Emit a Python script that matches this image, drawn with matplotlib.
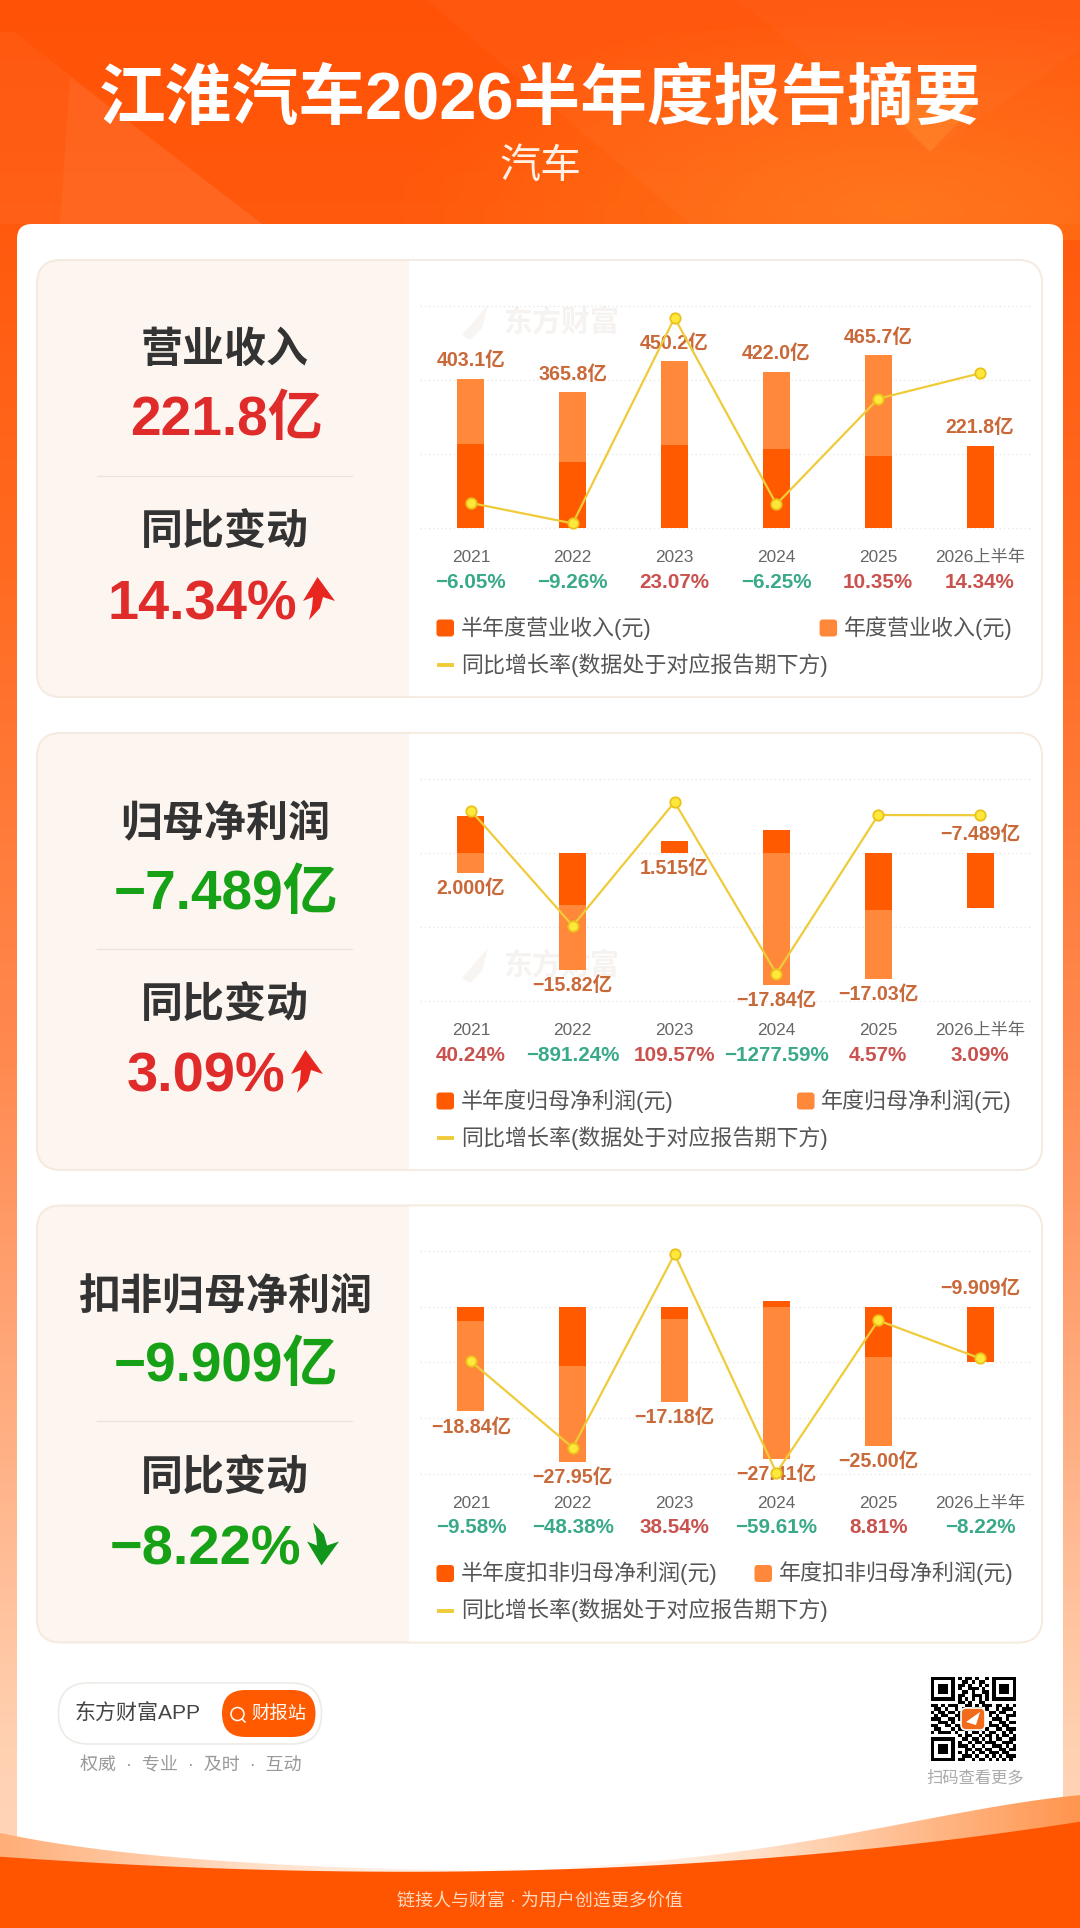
import matplotlib
matplotlib.use("Agg")
import matplotlib.pyplot as plt
import matplotlib.patches as patches
from matplotlib.colors import LinearSegmentedColormap
import numpy as np

W, H = 1080, 1928
plt.rcParams['font.family'] = ['Liberation Sans', 'Noto Sans CJK SC', 'DejaVu Sans']
plt.rcParams['axes.unicode_minus'] = True

categories = ["2021", "2022", "2023", "2024", "2025", "2026上半年"]

# 营业收入 (亿元)
rev_half = [225.6, 179.0, 224.7, 214.0, 194.0, 221.8]
rev_year = [403.1, 365.8, 450.2, 422.0, 465.7, np.nan]
rev_rate = [-6.05, -9.26, 23.07, -6.25, 10.35, 14.34]
rev_labels = ["403.1亿", "365.8亿", "450.2亿", "422.0亿", "465.7亿", "221.8亿"]

# 归母净利润 (亿元)
np_half = [4.9, -7.1, 1.6, 3.1, -7.66, -7.489]
np_year = [-2.7, -15.82, 1.515, -17.84, -17.03, np.nan]
np_rate = [40.24, -891.24, 109.57, -1277.59, 4.57, 3.09]
np_labels = ["2.000亿", "−15.82亿", "1.515亿", "−17.84亿", "−17.03亿", "−7.489亿"]

# 扣非归母净利润 (亿元)
dnp_half = [-2.6, -10.6, -2.2, 1.0, -9.0, -9.909]
dnp_year = [-18.84, -27.95, -17.18, -27.41, -25.00, np.nan]
dnp_rate = [-9.58, -48.38, 38.54, -59.61, 8.81, -8.22]
dnp_labels = ["−18.84亿", "−27.95亿", "−17.18亿", "−27.41亿", "−25.00亿", "−9.909亿"]

panels = [
    dict(top=260, title="营业收入", value="221.8亿", change="14.34%", up=True, value_good=False,
         half=rev_half, year=rev_year, rate=rev_rate, labels=rev_labels,
         ylim=(0, 600), rlim=(-10, 25), yticks=[0, 200, 400, 600],
         leg_half="半年度营业收入(元)", leg_year="年度营业收入(元)", leg_x=819.6, arrow_x=303, text_r=297),
    dict(top=733, title="归母净利润", value="−7.489亿", change="3.09%", up=True, value_good=True,
         half=np_half, year=np_year, rate=np_rate, labels=np_labels,
         ylim=(-20, 10), rlim=(-1500, 300), yticks=[-20, -10, 0, 10],
         leg_half="半年度归母净利润(元)", leg_year="年度归母净利润(元)", leg_x=797, arrow_x=291, text_r=285),
    dict(top=1205.5, title="扣非归母净利润", value="−9.909亿", change="−8.22%", up=False, value_good=True,
         half=dnp_half, year=dnp_year, rate=dnp_rate, labels=dnp_labels,
         ylim=(-30, 10), rlim=(-60, 40), yticks=[-30, -20, -10, 0, 10],
         leg_half="半年度扣非归母净利润(元)", leg_year="年度扣非归母净利润(元)", leg_x=754.5, arrow_x=307, text_r=301),
]

qr_rows = [
    "1111111010110100101111111",
    "1000001001101011001000001",
    "1011101011010010101011101",
    "1011101010011101001011101",
    "1011101001101001101011101",
    "1000001011001110101000001",
    "1111111010101010101111111",
    "0000000011010011000000000",
    "1101011100110101110110101",
    "0110100101001110100101110",
    "1011011010000000011011001",
    "0101100110000000010100111",
    "1110011011000000001110100",
    "0011101000000000010011011",
    "1100110110000000011101100",
    "0110001011011010100110111",
    "1011110100101101011001010",
    "0000000010110010110101101",
    "1111111001101101010110011",
    "1000001010010110111001110",
    "1011101011101001001110101",
    "1011101000110110110011011",
    "1011101010101011011101100",
    "1000001001110100101010111",
    "1111111011001011010101010",
]

fig = plt.figure(figsize=(W / 100, H / 100), dpi=100)
bg = fig.add_axes([0, 0, 1, 1], zorder=0)
bg.set_xlim(0, W)
bg.set_ylim(H, 0)
bg.axis("off")


def px(size):
    return size * 0.72


def rbox(x0, y0, x1, y1, r, **kw):
    p = patches.FancyBboxPatch((x0 + r, y0 + r), x1 - x0 - 2 * r, y1 - y0 - 2 * r,
                               boxstyle=f"round,pad={r},rounding_size={r}", **kw)
    bg.add_patch(p)
    return p


def curve(xs, ys, deg=5):
    coef = np.polyfit(xs, ys, deg)
    grid = np.linspace(0, W, 200)
    return grid, np.polyval(coef, grid)


# page background
page_cmap = LinearSegmentedColormap.from_list("page", [
    (0.0, "#FF5206"), (0.12, "#FF5A0E"), (0.3, "#FF6B22"), (0.55, "#FF8A50"),
    (0.75, "#FFB085"), (0.9, "#FFD0B0"), (1.0, "#FFD8BC")])
bg.imshow(np.linspace(0, 1, 256).reshape(-1, 1), cmap=page_cmap, extent=(0, W, H, 0),
          aspect="auto", zorder=0, vmin=0, vmax=1)
# soft glow low on the right of the header
gx, gy = np.meshgrid(np.linspace(0, W, 216), np.linspace(0, 240, 48))
glow_alpha = np.clip(1 - np.hypot((gx - 900) / 520, (gy - 210) / 210), 0, 1) * 0.85
glow_rgba = np.dstack([np.ones_like(gx), np.full_like(gx, 0.47), np.full_like(gx, 0.09), glow_alpha])
bg.imshow(glow_rgba, extent=(0, W, 240, 0), aspect="auto", zorder=0.5)
bg.add_patch(patches.Polygon([(427, 0), (737, 0), (930, 152), (1080, 50), (1080, 224), (690, 224)],
                             fc="white", alpha=0.03, ec="none", zorder=1))
bg.add_patch(patches.Polygon([(737, 0), (930, 152), (1080, 50), (1080, 0)],
                             fc="white", alpha=0.05, ec="none", zorder=1))
bg.add_patch(patches.Polygon([(930, 152), (880, 100), (980, 100)], fc="#FF8A2A", alpha=0.5, ec="none", zorder=1))
bg.add_patch(patches.Polygon([(14, 32), (262, 224), (0, 224), (0, 32)], fc="white", alpha=0.04, ec="none", zorder=1))
bg.add_patch(patches.Polygon([(70, 77), (262, 224), (60, 224)], fc="white", alpha=0.05, ec="none", zorder=1))

bg.text(540, 101, "江淮汽车2026半年度报告摘要", color="white", fontsize=px(66.7), fontweight="bold",
        ha="center", va="center", zorder=5)
bg.text(540, 167, "汽车", color="#FFF1E6", fontsize=px(41), ha="center", va="center", zorder=5)

# main white sheet
rbox(17, 224, 1063, 1960, 15, fc="white", ec="none", zorder=2)

# bottom waves
wx, wy = curve([0, 69, 207, 537, 758, 861, 964, 1080], [1833, 1845, 1860, 1868, 1850, 1830, 1813, 1795])
light_poly = patches.Polygon(list(zip(wx, wy)) + [(W, H), (0, H)], fc="none", ec="none", zorder=3)
bg.add_patch(light_poly)
wave_cmap = LinearSegmentedColormap.from_list("wave", [
    (0.0, "#FFAE78"), (0.25, "#FFE2CC"), (0.5, "#FFFFFF"), (0.7, "#FFE0C8"), (1.0, "#FF9650")])
wave_im = bg.imshow(np.linspace(0, 1, 256).reshape(1, -1), cmap=wave_cmap, extent=(0, W, H, 1780),
                    aspect="auto", zorder=3)
wave_im.set_clip_path(light_poly)
ox, oy = curve([0, 138, 537, 826, 1080], [1856.7, 1865, 1870, 1853, 1821.7], deg=4)
bg.add_patch(patches.Polygon(list(zip(ox, oy)) + [(W, H), (0, H)], fc="#FF5500", ec="none", zorder=3.5))
bg.text(540, 1902, "链接人与财富 · 为用户创造更多价值", color="#FFD9C2", fontsize=px(18),
        ha="center", va="center", zorder=5)

bg.set_xlim(0, W)
bg.set_ylim(H, 0)

X_POS = np.arange(len(categories))
RED, GREEN = "#E02B2B", "#16A116"
DARK = "#333333"

for idx, p in enumerate(panels):
    top = p["top"]
    bottom = top + 437
    # card and left tinted panel
    card = rbox(37, top, 1042, bottom, 24, fc="#FDF5F0", ec="#F5EADF", lw=1.2, zorder=3)
    right = patches.Rectangle((409, top), 640, 437, fc="white", ec="none", zorder=3.1)
    bg.add_patch(right)
    right.set_clip_path(card)
    rbox(37, top, 1042, bottom, 24, fc="none", ec="#F5EADF", lw=1.2, zorder=3.2)

    # left summary
    value_color = GREEN if p["value_good"] else RED
    change_color = RED if p["up"] else GREEN
    bg.text(225, top + 91, p["title"], color=DARK, fontsize=px(42), fontweight="bold",
            ha="center", va="center", zorder=5)
    bg.text(226, top + 161.5, p["value"], color=value_color, fontsize=px(55), fontweight="bold",
            ha="center", va="center", zorder=5)
    bg.plot([97, 352], [top + 215.7] * 2, color="#EBE2DB", lw=0.9, zorder=5)
    bg.text(225, top + 274, "同比变动", color=DARK, fontsize=px(42), fontweight="bold",
            ha="center", va="center", zorder=5)
    bg.text(p["text_r"], top + 345, p["change"], color=change_color, fontsize=px(56), fontweight="bold",
            ha="right", va="center", zorder=5)
    ax_l, ay = p["arrow_x"], top + 317
    shape = [(14.5, 0), (32, 24), (20, 20), (17, 31), (6, 43), (9, 31), (10, 20), (0, 24)]
    if not p["up"]:
        shape = [(sx, 43 - sy) for sx, sy in shape]
    bg.add_patch(patches.Polygon([(ax_l + sx, ay + sy) for sx, sy in shape],
                                 fc="#E8251F" if p["up"] else "#11961B", ec="none", zorder=5))

    # watermark
    if idx < 2:
        wy0 = top + 60 if idx == 0 else top + 230
        bg.add_patch(patches.Polygon([(462, wy0 + 15), (488, wy0 - 15), (482, wy0 + 8), (470, wy0 + 20)],
                                     fc="#F7F4F1", ec="none", zorder=4))
        bg.text(561, wy0 + 2, "东方财富", color="#F6F2EF", fontsize=px(29), fontweight="bold",
                ha="center", va="center", zorder=4)

    # legend
    leg_y0, leg_y1 = top + 368, top + 405
    rbox(436.5, leg_y0 - 8.5, 454, leg_y0 + 8.5, 3, fc="#FF5A00", ec="none", zorder=5)
    bg.text(461, leg_y0, p["leg_half"], color="#555555", fontsize=px(22), ha="left", va="center", zorder=5)
    rbox(p["leg_x"], leg_y0 - 8.5, p["leg_x"] + 17.5, leg_y0 + 8.5, 3, fc="#FF883A", ec="none", zorder=5)
    bg.text(p["leg_x"] + 24, leg_y0, p["leg_year"], color="#555555", fontsize=px(22),
            ha="left", va="center", zorder=5)
    bg.plot([436.5, 454], [leg_y1, leg_y1], color="#EFCB3A", lw=2.8, solid_capstyle="butt", zorder=5)
    bg.text(461, leg_y1, "同比增长率(数据处于对应报告期下方)", color="#555555", fontsize=px(22),
            ha="left", va="center", zorder=5)

    # chart
    chart_top = top + 45.5
    chart_bottom = chart_top + 222.6
    ax = fig.add_axes([420 / W, 1 - chart_bottom / H, 611 / W, 222.6 / H], zorder=2 + idx * 2)
    ax.patch.set_alpha(0)
    ax.bar(X_POS, p["year"], width=0.265, color="#FF883A", zorder=2)
    ax.bar(X_POS, p["half"], width=0.265, color="#FF5A00", zorder=3)
    ax.set_xlim(-0.5, 5.5)
    ax.set_ylim(*p["ylim"])
    ax.set_yticks(p["yticks"])
    ax.set_xticks(X_POS)
    ax.set_xticklabels(categories, fontsize=px(17.2), color="#666666")
    ax.tick_params(axis="x", length=0, pad=px(22))
    ax.tick_params(axis="y", length=0, labelleft=False)
    ax.grid(axis="y", color="#E9E9E9", lw=1, ls=(0, (1, 2)), zorder=0, clip_on=False)
    for s in ax.spines.values():
        s.set_visible(False)

    for i, lab in enumerate(p["labels"]):
        h, y = p["half"][i], p["year"][i]
        y = 0 if np.isnan(y) else y
        above = idx == 0 or i == 5
        anchor = max(0, h, y) if above else min(0, h, y)
        ax.annotate(lab, xy=(i, anchor), xytext=(0, 18 if above else -15.7), textcoords="offset pixels",
                    ha="center", va="center", color="#C9693A", fontsize=px(19.6), fontweight="bold",
                    zorder=6, annotation_clip=False)
        rate = p["rate"][i]
        rtxt = f"{rate:.2f}%".replace("-", "−")
        ax.annotate(rtxt, xy=(i, 0), xycoords=("data", "axes fraction"), xytext=(0, -54),
                    textcoords="offset pixels", ha="center", va="center",
                    color="#C9524F" if rate > 0 else "#3AA98A", fontsize=px(20.7), fontweight="bold",
                    annotation_clip=False)

    ax2 = ax.twinx()
    ax2.set_zorder(ax.get_zorder() + 1)
    ax2.patch.set_alpha(0)
    ax2.plot(X_POS, p["rate"], color="#EFCB3A", lw=1.6, marker="o", ms=7.5,
             mfc="#FFE83C", mec="#EAC21A", mew=1.3, clip_on=False)
    ax2.set_ylim(*p["rlim"])
    ax2.set_yticks([])
    for s in ax2.spines.values():
        s.set_visible(False)

# footer: app pill
rbox(58.5, 1683, 321.5, 1744, 30, fc="white", ec="#EEEAE6", lw=1.2, zorder=4)
rbox(222, 1690, 315.5, 1737, 23.5, fc="#FF5A00", ec="none", zorder=5)
bg.text(74, 1714, "东方财富APP", color="#444444", fontsize=px(21), ha="left", va="center", zorder=6)
bg.add_patch(patches.Circle((237.5, 1714), 6.5, fc="none", ec="white", lw=1.1, zorder=6))
bg.plot([242, 245], [1719, 1722], color="white", lw=1.1, zorder=6)
bg.text(251, 1714, "财报站", color="white", fontsize=px(18.4), ha="left", va="center", zorder=6)
bg.text(190.5, 1766, "权威  ·  专业  ·  及时  ·  互动", color="#999999", fontsize=px(18),
        ha="center", va="center", zorder=6)

# footer: qr code
qr = np.array([[int(c) for c in row] for row in qr_rows])
bg.imshow(1 - qr, cmap="gray", extent=(931, 1016, 1761, 1677), aspect="auto", interpolation="nearest",
          zorder=6, vmin=0, vmax=1)
rbox(961, 1708, 985, 1730, 5, fc="#F26A1B", ec="white", lw=1.2, zorder=7)
bg.add_patch(patches.Polygon([(966, 1722), (980, 1712), (976, 1725)], fc="white", ec="none", zorder=8))
bg.text(975, 1777, "扫码查看更多", color="#AAAAAA", fontsize=px(16.3), ha="center", va="center", zorder=6)

bg.set_xlim(0, W)
bg.set_ylim(H, 0)

fig.savefig("out.png", dpi=100)
